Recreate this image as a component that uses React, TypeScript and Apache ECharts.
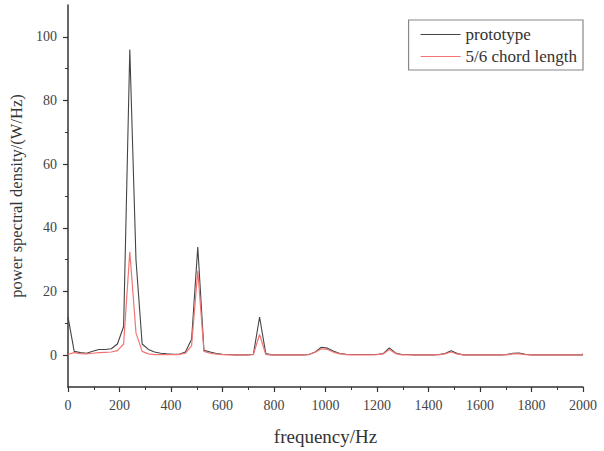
import React, { useEffect, useRef } from "react";
import * as echarts from "echarts";

const frequency = [
  0, 24, 48, 72, 96, 120, 144, 168, 192, 216, 240, 264, 288, 312, 336, 360, 384, 408, 432, 456,
  480, 504, 528, 552, 576, 600, 624, 648, 672, 696, 720, 744, 768, 792, 816, 840, 864, 888, 912, 936,
  960, 984, 1008, 1032, 1056, 1080, 1104, 1128, 1152, 1176, 1200, 1224, 1248, 1272, 1296, 1320, 1344, 1368, 1392, 1416,
  1440, 1464, 1488, 1512, 1536, 1560, 1584, 1608, 1632, 1656, 1680, 1704, 1728, 1752, 1776, 1800, 1824, 1848, 1872, 1896,
  1920, 1944, 1968, 1992, 2000,
];

const prototype = [
  12, 1.2, 0.8, 0.6, 1.2, 1.8, 1.8, 2.0, 3.5, 9, 96, 30, 3.5, 1.8, 1.0, 0.6, 0.4, 0.3, 0.3, 1.0,
  5, 34, 1.5, 1.0, 0.5, 0.3, 0.2, 0.1, 0.1, 0.1, 0.3, 12, 0.5, 0.1, 0.1, 0.1, 0.1, 0.1, 0.1, 0.2,
  1.0, 2.5, 2.2, 1.2, 0.5, 0.3, 0.2, 0.2, 0.2, 0.2, 0.2, 0.5, 2.3, 0.7, 0.2, 0.2, 0.1, 0.1, 0.1, 0.1,
  0.2, 0.5, 1.4, 0.5, 0.1, 0.1, 0.1, 0.1, 0.1, 0.1, 0.1, 0.2, 0.6, 0.7, 0.3, 0.1, 0.1, 0.1, 0.1, 0.1,
  0.1, 0.1, 0.1, 0.1, 0.1,
];

const chord56 = [
  0.2, 0.8, 0.5, 0.4, 0.6, 0.8, 0.9, 1.0, 1.4, 3.5, 32.5, 7, 1.2, 0.4, 0.2, 0.2, 0.2, 0.2, 0.2, 0.6,
  3, 26.5, 1.2, 0.6, 0.3, 0.2, 0.1, 0.1, 0.1, 0.1, 0.2, 6.5, 0.2, 0.1, 0.1, 0.1, 0.1, 0.1, 0.1, 0.2,
  0.9, 2.0, 1.8, 0.9, 0.4, 0.2, 0.1, 0.1, 0.1, 0.1, 0.2, 0.4, 1.8, 0.5, 0.1, 0.1, 0.1, 0.1, 0.1, 0.1,
  0.1, 0.4, 1.0, 0.3, 0.1, 0.1, 0.1, 0.1, 0.1, 0.1, 0.1, 0.1, 0.4, 0.4, 0.2, 0.1, 0.1, 0.1, 0.1, 0.1,
  0.1, 0.1, 0.1, 0.1, 0.4,
];

const yLabelValues = [0, 20, 40, 60, 80, 100];
const yMinorValues = [10, 30, 50, 70, 90];

const FONT = "Liberation Serif";
const AXIS_COLOR = "#333";

export default function App() {
  const ref = useRef<HTMLDivElement>(null);
  useEffect(() => {
    if (!ref.current) return;
    const chart = echarts.init(ref.current, null, { renderer: "svg" });
    const pair = (vals: number[]) => frequency.map((f, i) => [f, vals[i]]);
    chart.setOption({
      animation: false,
      backgroundColor: "#fff",
      grid: { left: 68, top: 5, right: 21, bottom: 64, containLabel: false },
      legend: {
        orient: "vertical",
        right: 21,
        top: 20,
        icon: "rect",
        itemWidth: 40,
        itemHeight: 1.2,
        itemGap: 5,
        padding: [6, 6, 5, 12],
        borderColor: "#888",
        borderWidth: 1.2,
        textStyle: { fontFamily: FONT, fontSize: 17, color: "#333" },
        data: ["prototype", "5/6 chord length"],
      },
      xAxis: {
        type: "value",
        min: 0,
        max: 2000,
        interval: 200,
        name: "frequency/Hz",
        nameLocation: "middle",
        nameGap: 40,
        nameTextStyle: { fontFamily: FONT, fontSize: 19, color: "#333" },
        axisLine: { show: true, onZero: false, lineStyle: { color: AXIS_COLOR, width: 1.5 } },
        axisTick: { show: true, inside: false, length: 5, lineStyle: { color: AXIS_COLOR, width: 1.2 } },
        minorTick: { show: true, splitNumber: 2, length: 3, lineStyle: { color: AXIS_COLOR, width: 1 } },
        axisLabel: {
          fontFamily: FONT,
          fontSize: 14,
          color: "#444",
          margin: 11,
          formatter: (v: number) => String(v),
        },
        splitLine: { show: false },
      },
      yAxis: [
        {
          type: "value",
          min: -10,
          max: 110,
          position: "left",
          name: "power spectral density/(W/Hz)",
          nameLocation: "middle",
          nameGap: 37,
          nameTextStyle: { fontFamily: FONT, fontSize: 16.5, color: "#333" },
          axisLine: { show: true, onZero: false, lineStyle: { color: AXIS_COLOR, width: 1.5 } },
          axisTick: { show: true, length: 5, customValues: yLabelValues, lineStyle: { color: AXIS_COLOR, width: 1.2 } },
          axisLabel: {
            fontFamily: FONT,
            fontSize: 14,
            color: "#444",
            margin: 11,
            customValues: yLabelValues,
            formatter: (v: number) => String(v),
          },
          splitLine: { show: false },
        },
        {
          type: "value",
          min: -10,
          max: 110,
          position: "left",
          axisLine: { show: false },
          axisTick: { show: true, length: 3, customValues: yMinorValues, lineStyle: { color: AXIS_COLOR, width: 1 } },
          axisLabel: { show: false },
          splitLine: { show: false },
        },
      ],
      series: [
        {
          name: "prototype",
          type: "line",
          data: pair(prototype),
          symbol: "none",
          lineStyle: { color: "#444", width: 1.1 },
          itemStyle: { color: "#444" },
          z: 2,
        },
        {
          name: "5/6 chord length",
          type: "line",
          data: pair(chord56),
          symbol: "none",
          lineStyle: { color: "#f47474", width: 1.2 },
          itemStyle: { color: "#f47474" },
          z: 3,
        },
      ],
    });
    return () => chart.dispose();
  }, []);
  return <div ref={ref} style={{ width: 604, height: 451, position: "absolute", left: 0, top: 0 }} />;
}
